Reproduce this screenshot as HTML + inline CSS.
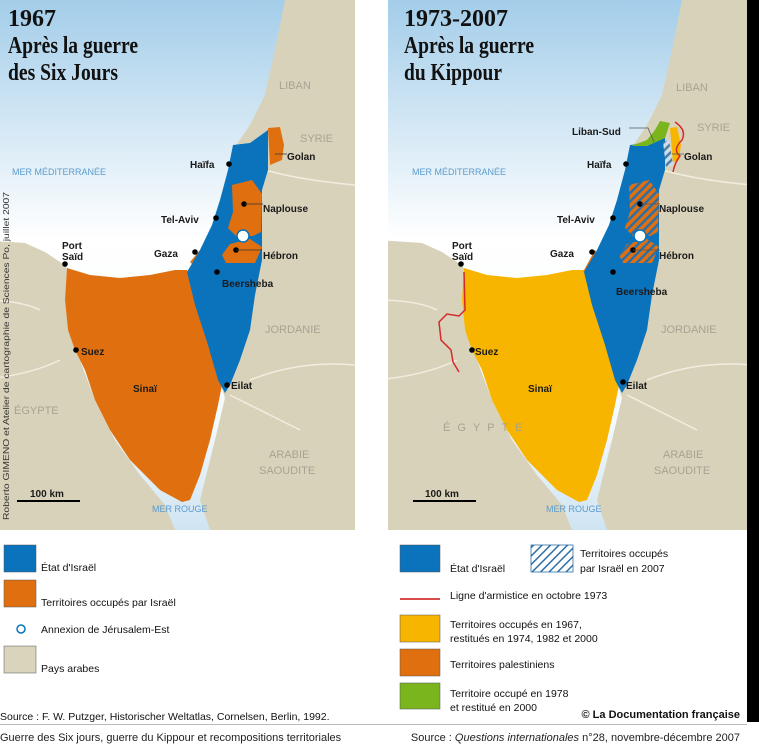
<!DOCTYPE html>
<html><head><meta charset="utf-8"><style>
html,body{margin:0;padding:0;background:#fff;}
svg{display:block;}
text{font-family:"Liberation Sans",sans-serif;}
.city{font-size:10px;fill:#1a1a1a;font-weight:bold;}
.ctry{font-size:11px;fill:#a8a292;}
.sea{font-size:9px;fill:#5b9bd0;}
.ttl{font-family:"Liberation Serif",serif;font-size:24px;fill:#111;font-weight:bold;}
.lg{font-size:10.5px;fill:#111;}
</style></head><body>
<svg width="759" height="745" viewBox="0 0 759 745" xmlns="http://www.w3.org/2000/svg">
<defs>
<linearGradient id="sg" x1="0" y1="0" x2="0" y2="1">
<stop offset="0" stop-color="#a3cde9"/><stop offset="0.45" stop-color="#ffffff"/><stop offset="0.8" stop-color="#f4f9fc"/><stop offset="1" stop-color="#cfe4f2"/>
</linearGradient>
<pattern id="hatch" width="6" height="6" patternUnits="userSpaceOnUse" patternTransform="rotate(45)">
<rect width="6" height="6" fill="#e0700f"/><rect width="2.5" height="6" fill="#2d6fa6"/></pattern>
<pattern id="hatchL" width="6" height="6" patternUnits="userSpaceOnUse" patternTransform="rotate(45)">
<rect width="6" height="6" fill="#fff"/><rect width="1.5" height="6" fill="#2d6fa6"/></pattern>
<pattern id="hatchG" width="6" height="6" patternUnits="userSpaceOnUse" patternTransform="rotate(45)">
<rect width="6" height="6" fill="#d0dde8"/><rect width="2.5" height="6" fill="#4d7fa8"/></pattern>
<clipPath id="cl"><rect x="0" y="0" width="355" height="530"/></clipPath>
<clipPath id="cr"><rect x="388" y="0" width="359" height="530"/></clipPath>
<g id="base">
<rect x="-20" y="0" width="400" height="530" fill="url(#sg)"/>
<path d="M285,0 L380,0 L380,530 L210,530 L200,500 L215,440 L225,398 L187,275 L200,250 L215,220 L225,190 L233,150 L250,125 L265,95 L275,50 Z" fill="#d9d2ba"/>
<path d="M-20,240 L25,243 L45,252 L60,262 L67,268 L65,300 L68,330 L80,360 L95,400 L115,440 L140,475 L165,505 L175,530 L-20,530 Z" fill="#d9d2ba"/>
<path d="M265,170 Q300,180 355,185 M250,380 Q300,360 355,365 M230,395 L300,430 M-20,300 Q20,300 40,310 M-20,380 Q30,375 60,360" stroke="#f1ede0" stroke-width="1.5" fill="none"/>
</g>
</defs>

<!-- LEFT PANEL -->
<g clip-path="url(#cl)">
<use href="#base"/>
<path d="M67,268 L90,275 L120,278 L150,275 L175,270 L187,270 L195,300 L205,330 L215,360 L222,385 L218,405 L210,440 L200,475 L190,500 L182,502 L160,490 L130,460 L110,430 L95,400 L85,370 L75,350 L68,330 L65,300 Z" fill="#e0700f"/>
<path d="M190,262 L200,250 L202,256 L194,266 Z" fill="#e0700f"/>
<path d="M233,145 L250,143 L268,130 L268,170 L262,190 L262,260 L255,295 L250,330 L240,360 L230,385 L225,393 L218,380 L208,345 L195,305 L187,272 L200,250 L212,225 L220,200 L228,170 Z" fill="#0a73bc"/>
<path d="M268,128 L280,127 L284,145 L282,160 L270,165 Z" fill="#e0700f"/>
<path d="M232,185 L252,180 L262,194 L261,232 L253,236 L236,236 L228,228 L233,212 Z" fill="#e0700f"/>
<path d="M230,244 L250,239 L262,247 L255,263 L226,263 L222,255 Z" fill="#e0700f"/>
<circle cx="243" cy="236" r="6" fill="#fff" stroke="#0a73bc" stroke-width="1.5"/>
</g>
<g>
<text class="ttl" x="8" y="26">1967</text>
<text class="ttl" x="8" y="53" textLength="130" lengthAdjust="spacingAndGlyphs">Après la guerre</text>
<text class="ttl" x="8" y="80" textLength="110" lengthAdjust="spacingAndGlyphs">des Six Jours</text>
<text class="ctry" x="279" y="89">LIBAN</text>
<text class="ctry" x="300" y="142">SYRIE</text>
<text class="ctry" x="265" y="333">JORDANIE</text>
<text class="ctry" x="14" y="414">ÉGYPTE</text>
<text class="ctry" x="269" y="458">ARABIE</text>
<text class="ctry" x="259" y="474">SAOUDITE</text>
<text class="sea" x="12" y="175">MER MÉDITERRANÉE</text>
<text class="sea" x="152" y="512" font-size="10">MER  ROUGE</text>
<g fill="#000"><circle cx="229" cy="164" r="2.8"/><circle cx="216" cy="218" r="2.8"/><circle cx="195" cy="252" r="2.8"/><circle cx="217" cy="272" r="2.8"/><circle cx="244" cy="204" r="2.8"/><circle cx="236" cy="250" r="2.8"/><circle cx="65" cy="264" r="2.8"/><circle cx="76" cy="350" r="2.8"/><circle cx="227" cy="385" r="2.8"/></g>
<path d="M245,204 L263,204 M236,250 L262,250 M275,154 L287,154" stroke="#333" stroke-width="0.8"/>
<text class="city" x="190" y="168">Haïfa</text>
<text class="city" x="287" y="160">Golan</text>
<text class="city" x="161" y="223">Tel-Aviv</text>
<text class="city" x="263" y="212">Naplouse</text>
<text class="city" x="62" y="249">Port</text><text class="city" x="62" y="260">Saïd</text>
<text class="city" x="154" y="257">Gaza</text>
<text class="city" x="263" y="259">Hébron</text>
<text class="city" x="222" y="287">Beersheba</text>
<text class="city" x="81" y="355">Suez</text>
<text class="city" x="133" y="392">Sinaï</text>
<text class="city" x="231" y="389">Eilat</text>
<text class="city" x="30" y="497">100 km</text>
<rect x="17" y="500" width="63" height="2" fill="#000"/>
<text x="9" y="520" font-size="8.5" fill="#333" transform="rotate(-90 9 520)" textLength="328" lengthAdjust="spacingAndGlyphs">Roberto GIMENO et Atelier de cartographie de Sciences Po, juillet 2007</text>
</g>

<!-- RIGHT PANEL -->
<g clip-path="url(#cr)">
<g transform="translate(397,0)">
<use href="#base"/>
<path d="M67,268 L90,275 L120,278 L150,275 L175,270 L187,270 L195,300 L205,330 L215,360 L222,385 L218,405 L210,440 L200,475 L190,500 L182,502 L160,490 L130,460 L110,430 L95,400 L85,370 L75,350 L68,330 L65,300 Z" fill="#f7b500"/>
<path d="M186,272 L198,250 L203,256 L194,270 Z" fill="#e0700f"/>
<path d="M233,145 L250,143 L268,130 L268,170 L262,190 L262,260 L255,295 L250,330 L240,360 L230,385 L225,393 L218,380 L208,345 L195,305 L187,272 L200,250 L212,225 L220,200 L228,170 Z" fill="#0a73bc"/>
<path d="M234,146 L250,140 L258,130 L263,121 L273,123 L268,138 L250,146 Z" fill="#7ab51d"/>
<path d="M266,142 L272,140 L276,165 L269,167 Z" fill="url(#hatchG)"/>
<path d="M273,128 L280,127 L284,145 L282,160 L276,162 Z" fill="#f7b500"/>
<path d="M232,185 L252,180 L262,194 L261,232 L253,236 L236,236 L228,228 L233,212 Z" fill="url(#hatch)"/>
<path d="M230,244 L250,239 L262,247 L255,263 L226,263 L222,255 Z" fill="url(#hatch)"/>
<circle cx="243" cy="236" r="6" fill="#fff" stroke="#0a73bc" stroke-width="1.5"/>
<path d="M278,122 Q290,130 285,140 Q275,150 283,156 Q278,162 276,172" stroke="#d42a2a" stroke-width="1.5" fill="none"/>
<path d="M67,272 L68,310 L62,316 L50,314 L42,322 L44,340 L54,350 L56,362 L62,372" stroke="#d42a2a" stroke-width="1.5" fill="none"/>
</g>
</g>
<g>
<rect x="747" y="0" width="12" height="722" fill="#000"/>
<text class="ttl" x="404" y="26">1973-2007</text>
<text class="ttl" x="404" y="53" textLength="130" lengthAdjust="spacingAndGlyphs">Après la guerre</text>
<text class="ttl" x="404" y="80" textLength="98" lengthAdjust="spacingAndGlyphs">du Kippour</text>
<text class="ctry" x="676" y="91">LIBAN</text>
<text class="ctry" x="697" y="131">SYRIE</text>
<text class="ctry" x="661" y="333">JORDANIE</text>
<text class="ctry" x="443" y="431" letter-spacing="7">ÉGYPTE</text>
<text class="ctry" x="663" y="458">ARABIE</text>
<text class="ctry" x="654" y="474">SAOUDITE</text>
<text class="sea" x="412" y="175">MER MÉDITERRANÉE</text>
<text class="sea" x="546" y="512" font-size="10">MER  ROUGE</text>
<g fill="#000"><circle cx="626" cy="164" r="2.8"/><circle cx="613" cy="218" r="2.8"/><circle cx="592" cy="252" r="2.8"/><circle cx="613" cy="272" r="2.8"/><circle cx="640" cy="204" r="2.8"/><circle cx="633" cy="250" r="2.8"/><circle cx="461" cy="264" r="2.8"/><circle cx="472" cy="350" r="2.8"/><circle cx="623" cy="382" r="2.8"/></g>
<path d="M641,204 L660,204 M633,250 L660,250 M629,128 L648,128 L654,142 M672,154 L684,154" stroke="#555" stroke-width="0.8" fill="none"/>
<text class="city" x="572" y="135">Liban-Sud</text>
<text class="city" x="587" y="168">Haïfa</text>
<text class="city" x="684" y="160">Golan</text>
<text class="city" x="557" y="223">Tel-Aviv</text>
<text class="city" x="659" y="212">Naplouse</text>
<text class="city" x="452" y="249">Port</text><text class="city" x="452" y="260">Saïd</text>
<text class="city" x="550" y="257">Gaza</text>
<text class="city" x="659" y="259">Hébron</text>
<text class="city" x="616" y="295">Beersheba</text>
<text class="city" x="475" y="355">Suez</text>
<text class="city" x="528" y="392">Sinaï</text>
<text class="city" x="626" y="389">Eilat</text>
<text class="city" x="425" y="497">100 km</text>
<rect x="413" y="500" width="63" height="2" fill="#000"/>
</g>

<!-- LEGENDS -->
<g>
<rect x="4" y="545" width="32" height="27" fill="#0a73bc" stroke="#555" stroke-width="0.5"/>
<text class="lg" x="41" y="571">État d'Israël</text>
<rect x="4" y="580" width="32" height="27" fill="#e0700f" stroke="#555" stroke-width="0.5"/>
<text class="lg" x="41" y="606">Territoires occupés par Israël</text>
<circle cx="21" cy="629" r="4" fill="none" stroke="#0a73bc" stroke-width="1.5"/>
<text class="lg" x="41" y="633">Annexion de Jérusalem-Est</text>
<rect x="4" y="646" width="32" height="27" fill="#d9d4bc" stroke="#555" stroke-width="0.5"/>
<text class="lg" x="41" y="672">Pays arabes</text>
<text class="lg" x="0" y="720">Source : F. W. Putzger, Historischer Weltatlas, Cornelsen, Berlin, 1992.</text>

<rect x="400" y="545" width="40" height="27" fill="#0a73bc" stroke="#555" stroke-width="0.5"/>
<text class="lg" x="450" y="572">État d'Israël</text>
<rect x="531" y="545" width="42" height="27" fill="url(#hatchL)" stroke="#2d6fa6" stroke-width="0.8"/>
<text class="lg" x="580" y="557">Territoires occupés</text>
<text class="lg" x="580" y="572">par Israël en 2007</text>
<rect x="400" y="598" width="40" height="2" fill="#d94a4a"/>
<text class="lg" x="450" y="599">Ligne d'armistice en octobre 1973</text>
<rect x="400" y="615" width="40" height="27" fill="#f7b500" stroke="#555" stroke-width="0.5"/>
<text class="lg" x="450" y="628">Territoires occupés en 1967,</text>
<text class="lg" x="450" y="642">restitués en 1974, 1982 et 2000</text>
<rect x="400" y="649" width="40" height="27" fill="#e0700f" stroke="#555" stroke-width="0.5"/>
<text class="lg" x="450" y="668">Territoires palestiniens</text>
<rect x="400" y="683" width="40" height="26" fill="#7ab51d" stroke="#555" stroke-width="0.5"/>
<text class="lg" x="450" y="697">Territoire occupé en 1978</text>
<text class="lg" x="450" y="711">et restitué en 2000</text>
<text x="740" y="718" font-size="11" font-weight="bold" text-anchor="end" fill="#111">© La Documentation française</text>
<rect x="0" y="724" width="747" height="1" fill="#bbb"/>
<text x="0" y="741" font-size="11" fill="#222">Guerre des Six jours, guerre du Kippour et recompositions territoriales</text>
<text x="740" y="741" font-size="11" fill="#222" text-anchor="end">Source : <tspan font-style="italic">Questions internationales</tspan> n°28, novembre-décembre 2007</text>
</g>
</svg>
</body></html>
